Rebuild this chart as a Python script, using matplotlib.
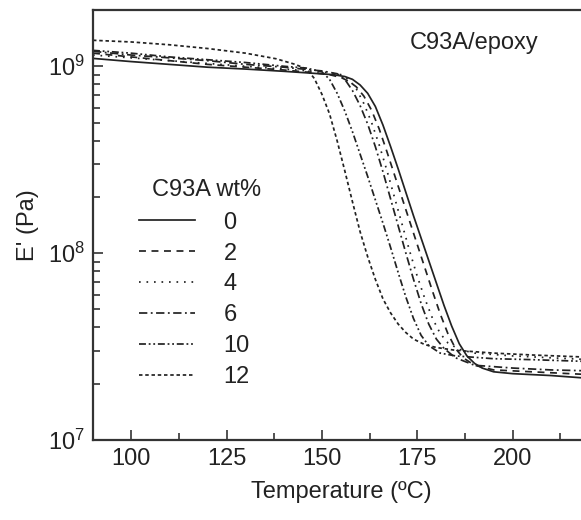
import numpy as np
import matplotlib
matplotlib.use("Agg")
import matplotlib.pyplot as plt
from matplotlib.ticker import MultipleLocator, LogLocator, NullFormatter

plt.rcParams['font.family'] = ['Liberation Sans', 'DejaVu Sans']
plt.rcParams['mathtext.default'] = 'regular'
plt.rcParams['lines.scale_dashes'] = False

# ---- data (temperature in degC, log10 of E' in Pa) ----
T_0 = [90, 100, 110, 120, 130, 140, 148, 153, 156, 158, 160, 162, 164, 166, 168, 170, 172, 174, 176, 178,
       180, 182, 184, 186, 188, 190, 192, 195, 200, 210, 220]
L_0 = [9.042, 9.025, 9.010, 8.995, 8.985, 8.973, 8.962, 8.955, 8.945, 8.93, 8.90, 8.855, 8.785, 8.685, 8.57,
       8.45, 8.325, 8.20, 8.08, 7.96, 7.84, 7.72, 7.61, 7.515, 7.45, 7.41, 7.385, 7.365, 7.355, 7.345, 7.33]

T_2 = [90, 100, 110, 120, 130, 140, 148, 152, 155, 157, 159, 161, 163, 165, 167, 169, 171, 173, 175, 177,
       179, 181, 183, 185, 187, 190, 195, 200, 210, 220]
L_2 = [9.07, 9.05, 9.03, 9.01, 8.995, 8.98, 8.965, 8.955, 8.94, 8.92, 8.89, 8.84, 8.765, 8.665, 8.545, 8.42,
       8.295, 8.17, 8.045, 7.92, 7.795, 7.675, 7.57, 7.49, 7.44, 7.40, 7.375, 7.37, 7.36, 7.35]

T_4 = [90, 100, 110, 120, 130, 140, 150, 155, 157, 159, 161, 163, 165, 167, 169, 171, 173, 175, 177, 179,
       181, 183, 186, 190, 200, 210, 220]
L_4 = [9.06, 9.045, 9.03, 9.015, 9.0, 8.985, 8.97, 8.955, 8.93, 8.88, 8.80, 8.70, 8.58, 8.445, 8.30, 8.155,
       8.01, 7.875, 7.755, 7.65, 7.57, 7.52, 7.485, 7.465, 7.45, 7.44, 7.43]

T_6 = [90, 100, 110, 120, 130, 140, 150, 154, 156, 158, 160, 162, 164, 166, 168, 170, 172, 174, 176, 178,
       180, 182, 185, 190, 200, 210, 220]
L_6 = [9.08, 9.06, 9.045, 9.03, 9.01, 8.995, 8.975, 8.96, 8.93, 8.87, 8.79, 8.69, 8.57, 8.435, 8.29, 8.145,
       8.00, 7.86, 7.73, 7.62, 7.54, 7.49, 7.44, 7.40, 7.385, 7.375, 7.37]

T_10 = [90, 100, 110, 120, 130, 140, 146, 150, 152, 154, 156, 158, 160, 162, 164, 166, 168, 170, 172, 174,
        176, 178, 181, 185, 195, 205, 220]
L_10 = [9.085, 9.07, 9.05, 9.035, 9.02, 9.0, 8.99, 8.97, 8.93, 8.855, 8.76, 8.65, 8.53, 8.41, 8.285, 8.16,
        8.03, 7.895, 7.765, 7.65, 7.56, 7.505, 7.465, 7.45, 7.435, 7.43, 7.42]

T_12 = [90, 100, 110, 120, 130, 138, 143, 146, 148, 150, 152, 154, 156, 158, 160, 162, 164, 166, 168, 170,
        172, 174, 177, 180, 185, 195, 205, 220]
L_12 = [9.139, 9.13, 9.115, 9.095, 9.07, 9.04, 9.01, 8.985, 8.935, 8.85, 8.745, 8.60, 8.44, 8.275, 8.115,
        7.98, 7.86, 7.755, 7.68, 7.62, 7.575, 7.54, 7.51, 7.495, 7.48, 7.465, 7.455, 7.443]

labels = ['0', '2', '4', '6', '10', '12']
series_T = [T_0, T_2, T_4, T_6, T_10, T_12]
series_L = [L_0, L_2, L_4, L_6, L_10, L_12]
styles = ['-', (0, (5, 4)), (0, (1.2, 4.2)), (0, (6, 2.5, 1.3, 2.5)),
          (0, (5, 2, 1.3, 2, 1.3, 2)), (0, (2.5, 2))]

W, H = 581, 520
fig = plt.figure(figsize=(W / 100, H / 100), dpi=100)
ax = fig.add_axes([93 / W, 80 / H, (589 - 93) / W, 430 / H])

col = '#222222'
for t, l, ls, lab in zip(series_T, series_L, styles, labels):
    ax.plot(t, 10 ** np.array(l), linestyle=ls, color=col, lw=1.25, label=lab)

ax.set_yscale('log')
ax.set_xlim(90, 220)
ax.set_ylim(1e7, 2e9)
ax.xaxis.set_major_locator(MultipleLocator(25))
ax.xaxis.set_minor_locator(MultipleLocator(12.5))
ax.yaxis.set_major_locator(LogLocator(base=10, numticks=10))
ax.yaxis.set_minor_locator(LogLocator(base=10, subs=np.arange(2, 10), numticks=20))
ax.yaxis.set_minor_formatter(NullFormatter())

ax.tick_params(which='both', direction='in', colors='#333333', labelcolor='#222222', labelsize=17, width=1.2)
ax.tick_params(which='major', length=7, pad=6)
ax.tick_params(which='minor', length=5)
for s in ax.spines.values():
    s.set_linewidth(1.6)
    s.set_color('#333333')

ax.set_xlabel('Temperature (ºC)', fontsize=17, color='#222222', labelpad=8)
ax.set_ylabel("E' (Pa)", fontsize=17, color='#222222', labelpad=6)

leg = ax.legend(loc='upper left', bbox_to_anchor=(122 / W, 1 - 195 / H), bbox_transform=fig.transFigure,
                frameon=False, fontsize=17, handlelength=2.4, handletextpad=1.2,
                labelspacing=0.38, borderpad=0.2)
for t in leg.get_texts():
    t.set_color('#222222')
fig.text(152 / W, 1 - 190 / H, 'C93A wt%', fontsize=17, color='#222222', ha='left', va='center')

fig.text(410 / W, 1 - 43 / H, 'C93A/epoxy', fontsize=17, color='#222222', va='center', ha='left')

fig.savefig('out.png', dpi=100)
